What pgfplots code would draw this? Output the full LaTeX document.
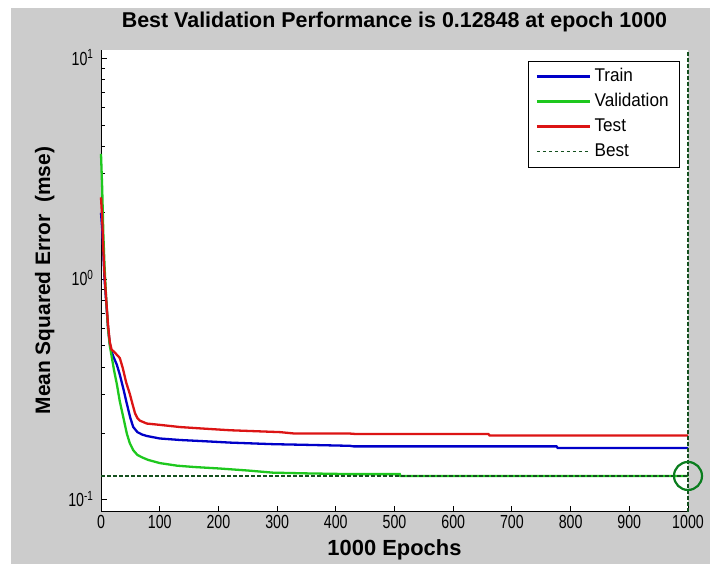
\documentclass[border=0pt]{standalone}
\usepackage{fontspec}
\setmainfont{Liberation Sans}
\newfontfamily\narrowfont[FakeStretch=0.75]{Liberation Sans}
\newfontfamily\legfont[FakeStretch=0.93]{Liberation Sans}
\usepackage{pgfplots}
\pgfplotsset{compat=1.18}
\definecolor{figgray}{RGB}{204,204,204}
\definecolor{trainblue}{RGB}{0,0,200}
\definecolor{valgreen}{RGB}{30,200,30}
\definecolor{testred}{RGB}{220,20,20}
\definecolor{bestgreen}{RGB}{20,80,30}
\definecolor{circgreen}{RGB}{10,125,30}
\begin{document}
\begin{tikzpicture}
\path[use as bounding box] (0,0) rectangle (710bp,564bp);
\fill[white] (0,0) rectangle (710bp,564bp);
\fill[figgray] (11bp,0) rectangle (710bp,556bp);
\begin{axis}[
  at={(101bp,52.3bp)}, anchor=south west,
  scale only axis, width=587bp, height=462bp,
  xmin=0, xmax=1000,
  ymode=log, ymin=0.0885, ymax=10.97,
  axis x line*=bottom, axis y line*=left,
  axis line style={black, line width=1bp, -},
  axis background/.style={fill=white},
  tick align=inside, major tick length=6bp, minor tick length=3.5bp,
  every tick/.style={black, line width=1bp},
  xtick={0,100,...,1000},
  ytick={0.1,1,10},
  yticklabels={10\smash{\textsuperscript{-1}},10\smash{\textsuperscript{0}},10\smash{\textsuperscript{1}}},
  /pgf/number format/assume math mode=true,
  /pgf/number format/1000 sep={},
  tick label style={font=\narrowfont\fontsize{19}{21}\selectfont},
  yticklabel style={xshift=-4bp},
  clip=false,
  title={Best Validation Performance is 0.12848 at epoch 1000},
  title style={font=\bfseries\fontsize{21.5}{25}\selectfont, at={(axis description cs:0.5,1)}, anchor=base, yshift=16.5bp},
  xlabel={1000 Epochs},
  xlabel style={font=\bfseries\fontsize{22}{25}\selectfont, at={(axis description cs:0.5,0)}, anchor=base, yshift=-44bp},
  ylabel={Mean Squared Error~~(mse)},
  ylabel style={font=\bfseries\fontsize{21}{24}\selectfont, at={(axis description cs:0,0.5)}, anchor=base, rotate=0, yshift=51bp},
  legend style={at={(axis description cs:1,1)}, anchor=north east, xshift=-8bp, yshift=-11bp,
    draw=black, line width=0.8bp, fill=white, font=\legfont\fontsize{18.5}{21}\selectfont,
    inner xsep=7.5bp, inner ysep=7bp, row sep=8bp,
    nodes={inner xsep=3.5bp, inner ysep=0bp, text height=13bp, text depth=4bp}},
  legend cell align=left,
  legend image code/.code={\draw[#1] (0bp,0bp) -- (53bp,0bp);},
]
% Train
\addplot[trainblue, line width=2.3bp] coordinates {
(0,2.0) (2,1.7) (4,1.3) (6,1.0) (9,0.78) (12,0.6) (15,0.51) (18,0.47) (22,0.44) (27,0.41)
(32,0.37) (38,0.32) (44,0.273) (50,0.235) (55,0.214) (62,0.203) (70,0.198) (78,0.195)
(100,0.19) (135,0.187) (170,0.185) (220,0.182) (294,0.179) (340,0.178) (424,0.176)
(430,0.175) (776,0.175) (778,0.172) (1000,0.172)};
\addlegendentry{Train}
% Validation
\addplot[valgreen, line width=2.3bp] coordinates {
(0,3.7) (2,2.6) (4,1.6) (6,1.15) (9,0.8) (12,0.6) (15,0.5) (18,0.45) (22,0.39) (27,0.335)
(32,0.28) (38,0.237) (44,0.2) (49,0.181) (55,0.168) (62,0.16) (70,0.156) (80,0.152)
(100,0.147) (130,0.143) (160,0.141) (200,0.139) (250,0.136) (293,0.133) (350,0.132)
(424,0.131) (509,0.131) (510,0.1285) (1000,0.12848)};
\addlegendentry{Validation}
% Test
\addplot[testred, line width=2.3bp] coordinates {
(0,2.35) (2,1.9) (4,1.35) (6,1.05) (9,0.8) (12,0.62) (15,0.52) (18,0.48) (22,0.47) (27,0.455)
(32,0.44) (37,0.397) (43,0.34) (49,0.303) (54,0.27) (58,0.247) (62,0.235) (66,0.229)
(78,0.222) (100,0.219) (135,0.214) (170,0.211) (220,0.207) (305,0.203) (330,0.2) (424,0.2)
(435,0.199) (660,0.199) (662,0.196) (1000,0.196)};
\addlegendentry{Test}
% Best
\addplot[bestgreen, line width=1.1bp, dash pattern=on 3.5bp off 2.5bp] coordinates {(0,0.12848) (1000,0.12848)};
\addlegendentry{Best}
\addplot[bestgreen, line width=1.1bp, dash pattern=on 3.5bp off 2.5bp, forget plot] coordinates {(1000,0.0885) (1000,10.97)};
\addplot[circgreen, only marks, mark=o, mark size=14bp, mark options={line width=2.2bp}, forget plot] coordinates {(1000,0.12848)};
\end{axis}
\end{tikzpicture}
\end{document}
